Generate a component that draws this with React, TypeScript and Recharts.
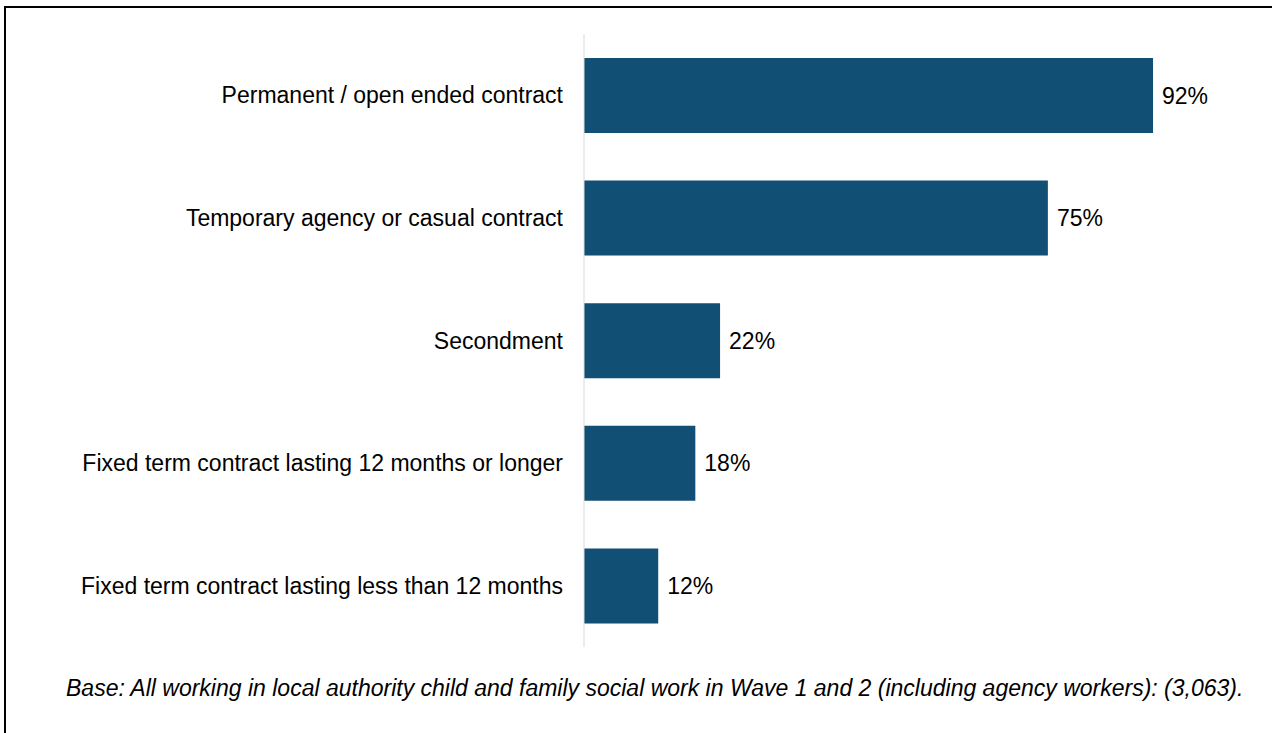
import { BarChart, Bar, XAxis, YAxis, LabelList } from 'recharts';

const categories = [
  'Permanent / open ended contract',
  'Temporary agency or casual contract',
  'Secondment',
  'Fixed term contract lasting 12 months or longer',
  'Fixed term contract lasting less than 12 months',
];
const shares = [92, 75, 22, 18, 12];

const data = categories.map((name, i) => ({ name, value: shares[i] }));

const FONT = '"Liberation Sans", Arial, sans-serif';

const App = () => {
  return (
    <div>
      {/* frame: only top and left edges fall inside the picture */}
      <div
        style={{
          position: 'absolute',
          left: 4,
          top: 6,
          width: 1268,
          height: 727,
          borderTop: '2px solid #000',
          borderLeft: '2px solid #000',
          boxSizing: 'border-box',
        }}
      />
      <div style={{ position: 'absolute', left: 0, top: 0 }}>
        <BarChart
          width={1272}
          height={660}
          data={data}
          layout="vertical"
          margin={{ top: 34, right: 69.5, bottom: 13, left: 0 }}
        >
          <XAxis type="number" domain={[0, 100]} hide />
          <YAxis
            type="category"
            dataKey="name"
            width={584}
            axisLine={{ stroke: '#d9d9d9', strokeWidth: 1 }}
            tickLine={false}
            tickSize={0}
            tickMargin={21}
            tick={{ fill: '#000', fontSize: 23, fontFamily: FONT }}
          />
          <Bar dataKey="value" fill="#124f74" barSize={75} isAnimationActive={false}>
            <LabelList
              dataKey="value"
              position="right"
              offset={9}
              formatter={(v: any) => `${v}%`}
              style={{ fill: '#000', fontSize: 23, fontFamily: FONT }}
            />
          </Bar>
        </BarChart>
      </div>
      <div
        style={{
          position: 'absolute',
          left: 66,
          top: 675,
          whiteSpace: 'nowrap',
          fontFamily: FONT,
          fontStyle: 'italic',
          fontSize: 23,
          color: '#000',
        }}
      >
        Base: All working in local authority child and family social work in Wave 1 and 2 (including agency workers): (3,063).
      </div>
    </div>
  );
};

export default App;
